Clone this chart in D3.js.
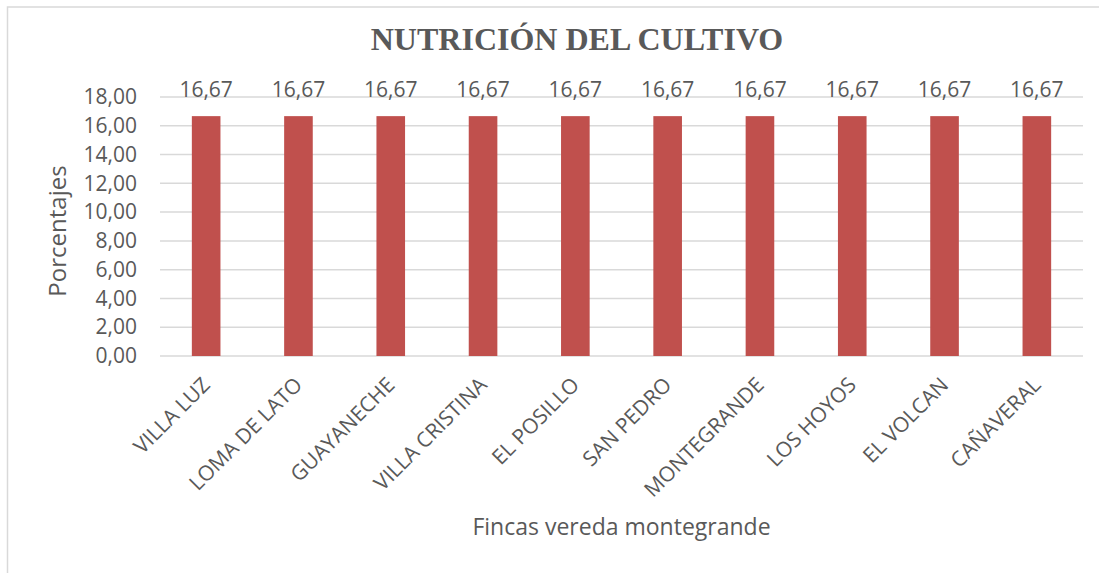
<!DOCTYPE html>
<html>
<head>
<meta charset="utf-8">
<script src="https://cdn.jsdelivr.net/npm/d3@7"></script>
<style>
  body { margin: 0; background: #fff; }
  svg { display: block; font-family: "Open Sans", sans-serif; }
</style>
</head>
<body>
<svg width="1099" height="573"></svg>
<script>
// Data
var fincas = ["VILLA LUZ", "LOMA DE LATO", "GUAYANECHE", "VILLA CRISTINA", "EL POSILLO",
              "SAN PEDRO", "MONTEGRANDE", "LOS HOYOS", "EL VOLCAN", "CAÑAVERAL"];
var porcentajes = [16.67, 16.67, 16.67, 16.67, 16.67, 16.67, 16.67, 16.67, 16.67, 16.67];
var yTicks = [0, 2, 4, 6, 8, 10, 12, 14, 16, 18];

var svg = d3.select("svg");
var textColor = "#595959";

// chart border (runs off the right and bottom edge)
svg.append("rect")
    .attr("x", 7.5).attr("y", 7)
    .attr("width", 1200).attr("height", 700)
    .attr("fill", "none")
    .attr("stroke", "#d9d9d9")
    .attr("stroke-width", 1.5);

// plot area
var plotLeft = 160, plotRight = 1083, plotTop = 97, plotBottom = 356;

var xScale = d3.scaleBand()
    .domain(fincas)
    .range([plotLeft, plotRight])
    .paddingInner(0.69)
    .paddingOuter(0.345);

var yScale = d3.scaleLinear()
    .domain([0, 18])
    .range([plotBottom, plotTop]);

// gridlines
svg.append("g")
    .selectAll("line")
    .data(yTicks)
    .enter()
    .append("line")
    .attr("x1", plotLeft)
    .attr("x2", plotRight)
    .attr("y1", function (d) { return yScale(d); })
    .attr("y2", function (d) { return yScale(d); })
    .attr("stroke", "#d9d9d9")
    .attr("stroke-width", 1.5);

// y axis (labels only)
var yAxis = d3.axisLeft(yScale)
    .tickValues(yTicks)
    .tickSize(0)
    .tickPadding(23)
    .tickFormat(function (d) { return d3.format(".2f")(d).replace(".", ","); });

var gy = svg.append("g")
    .attr("transform", "translate(" + plotLeft + ",0)")
    .call(yAxis);
gy.select(".domain").remove();
gy.selectAll("text")
    .attr("font-size", "21px")
    .attr("font-family", "Open Sans")
    .attr("fill", textColor);

// bars
svg.append("g")
    .selectAll("rect")
    .data(porcentajes)
    .enter()
    .append("rect")
    .attr("x", function (d, i) { return xScale(fincas[i]); })
    .attr("y", function (d) { return yScale(d); })
    .attr("width", xScale.bandwidth())
    .attr("height", function (d) { return plotBottom - yScale(d); })
    .attr("fill", "#c0504d");

// data labels
svg.append("g")
    .selectAll("text")
    .data(porcentajes)
    .enter()
    .append("text")
    .attr("x", function (d, i) { return xScale(fincas[i]) + xScale.bandwidth() / 2; })
    .attr("y", function (d) { return yScale(d) - 19; })
    .attr("text-anchor", "middle")
    .attr("font-size", "21px")
    .attr("fill", textColor)
    .text(function (d) { return d3.format(".2f")(d).replace(".", ","); });

// x axis (labels only)
var xAxis = d3.axisBottom(xScale).tickSize(0);
var gx = svg.append("g")
    .attr("transform", "translate(0," + plotBottom + ")")
    .call(xAxis);
gx.select(".domain").remove();
gx.selectAll("text")
    .attr("font-size", "21px")
    .attr("font-family", "Open Sans")
    .attr("fill", textColor)
    .attr("y", 0)
    .attr("dy", "0.35em")
    .style("text-anchor", "end")
    .attr("transform", "translate(0,25) rotate(-45)");

// title
svg.append("text")
    .attr("x", 577)
    .attr("y", 50)
    .attr("text-anchor", "middle")
    .attr("font-family", "'Liberation Serif', 'Times New Roman', serif")
    .attr("font-weight", "bold")
    .attr("font-size", "32px")
    .attr("fill", textColor)
    .text("NUTRICIÓN DEL CULTIVO");

// axis titles
svg.append("text")
    .attr("x", (plotLeft + plotRight) / 2)
    .attr("y", 535)
    .attr("text-anchor", "middle")
    .attr("font-size", "23px")
    .attr("fill", textColor)
    .text("Fincas vereda montegrande");

svg.append("text")
    .attr("transform", "translate(66,231) rotate(-90)")
    .attr("text-anchor", "middle")
    .attr("font-size", "24px")
    .attr("fill", textColor)
    .text("Porcentajes");
</script>
</body>
</html>
